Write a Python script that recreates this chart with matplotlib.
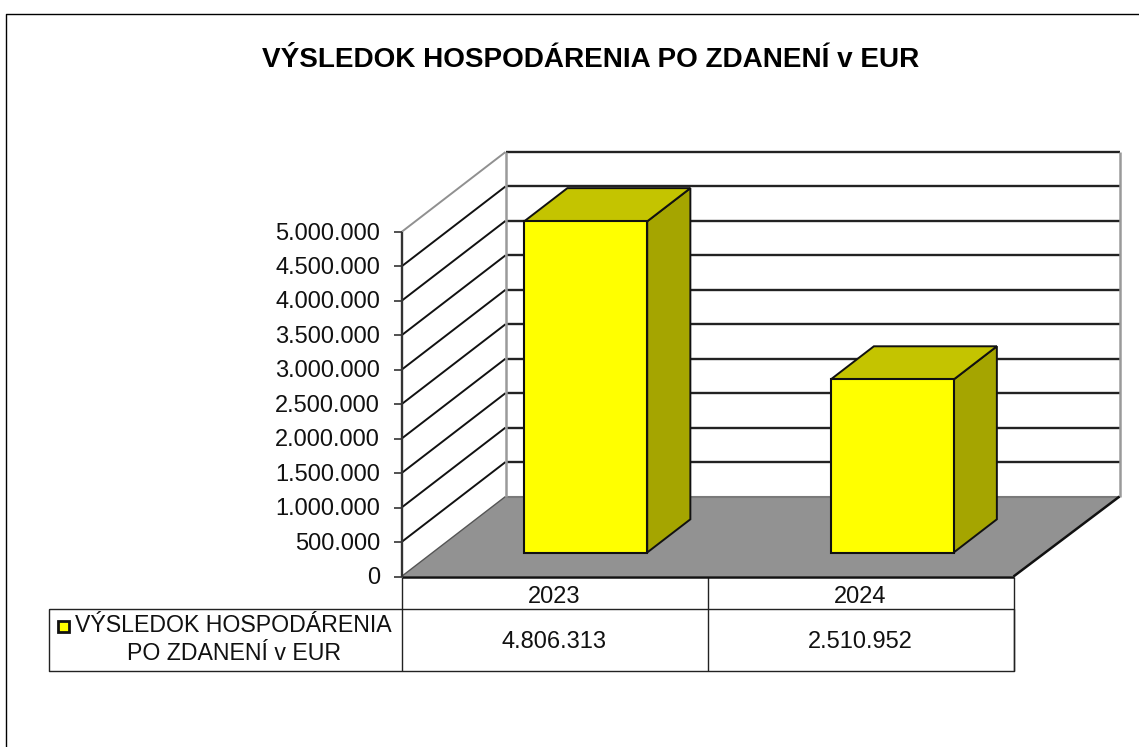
import matplotlib
matplotlib.use("Agg")
import matplotlib.pyplot as plt
from matplotlib.patches import Polygon, Rectangle
from matplotlib.lines import Line2D

plt.rcParams['font.family'] = ['Liberation Sans', 'DejaVu Sans']

title = "VÝSLEDOK HOSPODÁRENIA PO ZDANENÍ v EUR"
series_name = ["VÝSLEDOK HOSPODÁRENIA", "PO ZDANENÍ v EUR"]
categories = ["2023", "2024"]
values = [4806313, 2510952]
value_labels = ["4.806.313", "2.510.952"]
y_ticks = [0, 500000, 1000000, 1500000, 2000000, 2500000, 3000000, 3500000, 4000000, 4500000, 5000000]
y_tick_labels = ["0", "500.000", "1.000.000", "1.500.000", "2.000.000", "2.500.000",
                 "3.000.000", "3.500.000", "4.000.000", "4.500.000", "5.000.000"]

W, H = 1139, 747
fig = plt.figure(figsize=(W / 100, H / 100), dpi=100)
ax = fig.add_axes([0, 0, 1, 1])
ax.set_xlim(0, W)
ax.set_ylim(H, 0)
ax.axis("off")

X0, X1 = 401.5, 1013.5     # front plane
Y0, Y_MAX = 576.5, 232.0   # value 0 and value 5M on the front plane
DX, DY = 104.0, -80.0      # full depth
BAR_W = 123.0
D_NEAR, D_FAR = 0.30, 0.715  # bar depth span as fraction of the full depth
y_top = y_ticks[-1]
cat_w = (X1 - X0) / len(categories)


def yv(v):
    return Y0 - (Y0 - Y_MAX) * v / y_top


def line(xs, ys, color="#111111", lw=1.5, z=2):
    ax.add_line(Line2D(xs, ys, color=color, lw=lw, zorder=z, solid_capstyle="butt"))


# figure frame
line([6, 6, W], [H, 13.5, 13.5], color="#000000", lw=1.0, z=1)

# title
ax.text(590.5, 60, title, ha="center", va="center", fontsize=20.1, fontweight="bold", color="black")

# floor
ax.add_patch(Polygon([(X0, Y0), (X1, Y0), (X1 + DX + 2, Y0 + DY), (X0 + DX, Y0 + DY)],
                     closed=True, fc="#929292", ec="none", zorder=1))
line([X0, X1], [Y0, Y0], lw=1.8, z=3)
line([X1, X1 + DX + 2], [Y0, Y0 + DY], lw=1.8, z=3)
line([X0, X0 + DX], [Y0, Y0 + DY], color="#555555", lw=1.0, z=2)

# gridlines on side and back walls
for i, t in enumerate(y_ticks):
    y = yv(t)
    top = t == y_top
    if t > 0:
        line([X0, X0 + DX], [y, y + DY], color="#909090" if top else "#111111", lw=1.4)
        line([X0 + DX, X1 + DX + 2], [y + DY, y + DY], color="#222222", lw=1.7)
    line([X0 - 8, X0], [y, y], color="#333333", lw=1.2)
    ax.text(380, y + 1.5, y_tick_labels[i], ha="right", va="center", fontsize=17, color="#111111")
line([X0 + DX, X1 + DX + 2], [Y0 + DY, Y0 + DY], color="#7a7a7a", lw=1.5, z=2)

# back wall verticals and value axis
line([X0 + DX, X0 + DX], [Y0 + DY, yv(y_top) + DY], color="#9a9a9a", lw=1.8, z=2)
line([X1 + DX + 2, X1 + DX + 2], [Y0 + DY, yv(y_top) + DY], color="#9a9a9a", lw=1.8, z=2)
line([X0, X0], [Y0, yv(y_top)], color="#333333", lw=1.7, z=3)

# bars
for i, v in enumerate(values):
    left = X0 + cat_w * (i + 0.5) - BAR_W / 2 + DX * D_NEAR + (0.5 if i else 0)
    right = left + BAR_W
    by = Y0 + DY * D_NEAR
    ty = by - (Y0 - yv(v))
    ox = DX * (D_FAR - D_NEAR)
    oy = DY * (D_FAR - D_NEAR)
    z = 5
    ax.add_patch(Polygon([(right, by), (right + ox, by + oy), (right + ox, ty + oy), (right, ty)],
                         closed=True, fc="#a5a500", ec="#111111", lw=1.4, zorder=z, joinstyle="miter"))
    ax.add_patch(Polygon([(left, ty), (right, ty), (right + ox, ty + oy), (left + ox, ty + oy)],
                         closed=True, fc="#c4c400", ec="#111111", lw=1.4, zorder=z, joinstyle="miter"))
    ax.add_patch(Rectangle((left, ty), BAR_W, by - ty, fc="#ffff00", ec="#111111", lw=1.5, zorder=z + 1))

# data table
T_LEFT, T_MID, T_BOTTOM = 48.5, 608.5, 671.0
line([T_LEFT, X1, X1, T_LEFT, T_LEFT], [T_MID, T_MID, T_BOTTOM, T_BOTTOM, T_MID], color="#222222", lw=1.0)
line([X0, X0], [Y0, T_BOTTOM], color="#222222", lw=1.0)
line([X1, X1], [Y0, T_BOTTOM], color="#222222", lw=1.0)
for i in range(len(categories)):
    cx = X0 + cat_w * (i + 0.5)
    ax.text(cx, 597, categories[i], ha="center", va="center", fontsize=17, color="#111111")
    ax.text(cx, 642, value_labels[i], ha="center", va="center", fontsize=17, color="#111111")
    if i:
        line([X0 + cat_w * i] * 2, [Y0, T_BOTTOM], color="#222222", lw=1.0)
ax.add_patch(Rectangle((57.5, 620.5), 11, 11, fc="#ffff00", ec="#111111", lw=2.0, zorder=4))
ax.text(233.5, 626, series_name[0], ha="center", va="center", fontsize=16.7, color="#111111")
ax.text(234, 654, series_name[1], ha="center", va="center", fontsize=16.7, color="#111111")

fig.savefig("out.png", dpi=100, facecolor="white")
